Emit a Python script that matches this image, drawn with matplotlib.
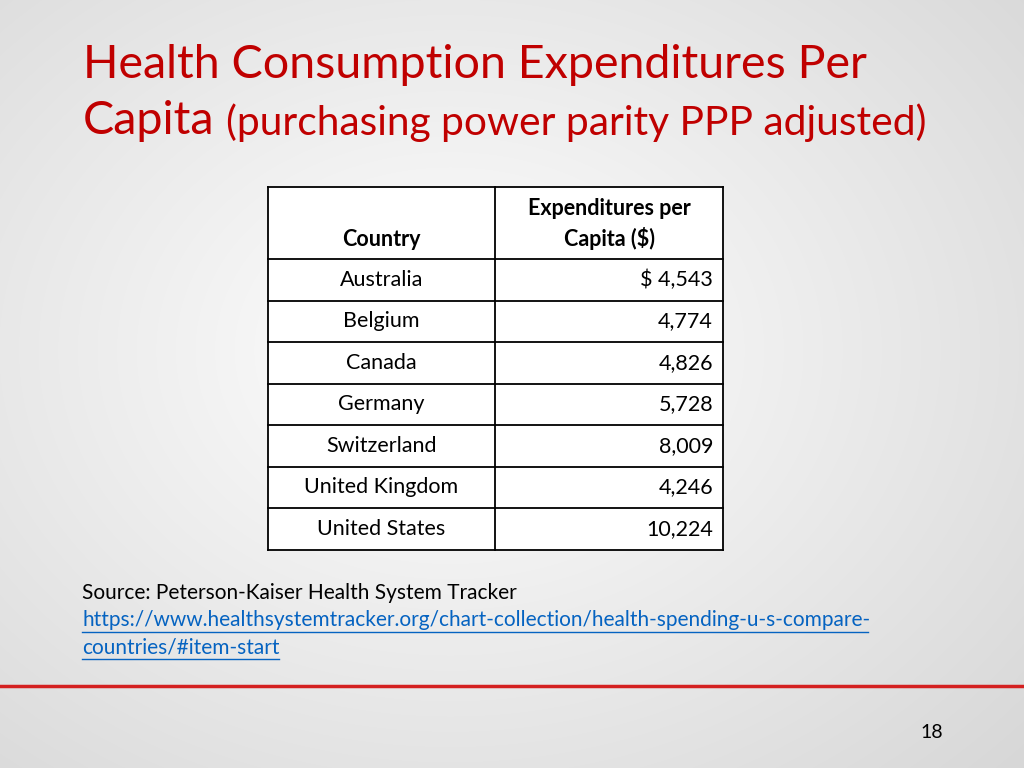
import numpy as np
import matplotlib.pyplot as plt

# table data
countries = ["Australia", "Belgium", "Canada", "Germany", "Switzerland", "United Kingdom", "United States"]
spending = ["$ 4,543", "4,774", "4,826", "5,728", "8,009", "4,246", "10,224"]
headers = ["Country", "Expenditures per\nCapita ($)"]
page_no = "18"

plt.rcParams['font.family'] = 'Lato'

fig = plt.figure(figsize=(10.24, 7.68), dpi=100)
ax = fig.add_axes([0, 0, 1, 1])
ax.set_xlim(0, 1024)
ax.set_ylim(768, 0)
ax.axis('off')

# slide background, soft radial grey gradient
yy, xx = np.mgrid[0:768, 0:1024]
r = np.sqrt(((xx - 450) / 900.0) ** 2 + ((yy - 350) / 700.0) ** 2)
bg = np.clip(1.0 - 0.18 * r, 0.82, 1.0)
ax.imshow(np.dstack([bg, bg, bg]), extent=[0, 1024, 768, 0], zorder=0)

red = '#c00000'
ax.text(83, 65, "Health Consumption Expenditures Per", color=red, fontsize=33.6, va='center')
ax.text(83, 121, "Capita", color=red, fontsize=33.6, va='center')
ax.text(226, 123, "(purchasing power parity PPP adjusted)", color=red, fontsize=29.3, va='center')

# table geometry
x0, x1, x2 = 268, 495, 723
top, head_bot, row_h = 187, 259, 41.5
nrows = len(countries)
bottom = head_bot + row_h * nrows
ax.add_patch(plt.Rectangle((x0, top), x2 - x0, bottom - top, facecolor='white', edgecolor='none', zorder=1))
lw = 1.3
for y in [top, head_bot] + [head_bot + row_h * (i + 1) for i in range(nrows)]:
    ax.plot([x0, x2], [y, y], color='black', lw=lw, zorder=2)
for x in [x0, x1, x2]:
    ax.plot([x, x], [top, bottom], color='black', lw=lw, zorder=2)

fs = 15.5
ax.text((x0 + x1) / 2, 239, headers[0], ha='center', va='center', fontsize=fs, fontweight='bold')
ax.text((x1 + x2) / 2, 224, headers[1], ha='center', va='center', fontsize=fs, fontweight='bold', linespacing=1.45)
for i, (c, v) in enumerate(zip(countries, spending)):
    yc = head_bot + row_h * (i + 0.5)
    ax.text((x0 + x1) / 2, yc, c, ha='center', va='center', fontsize=fs)
    ax.text(x2 - 10, yc, v, ha='right', va='center', fontsize=fs)

ax.text(82, 593, "Source: Peterson-Kaiser Health System Tracker", fontsize=15, va='center')
link = '#0563c1'
ax.text(82, 620, "https://www.healthsystemtracker.org/chart-collection/health-spending-u-s-compare-",
        fontsize=15, va='center', color=link)
ax.text(82, 647, "countries/#item-start", fontsize=15, va='center', color=link)
ax.plot([82, 868], [632, 632], color=link, lw=1)
ax.plot([82, 279], [659, 659], color=link, lw=1)

ax.plot([0, 1024], [686, 686], color='#d42020', lw=2.5)
ax.text(932, 733, page_no, fontsize=14, ha='center', va='center')

fig.savefig('out.png', dpi=100)
